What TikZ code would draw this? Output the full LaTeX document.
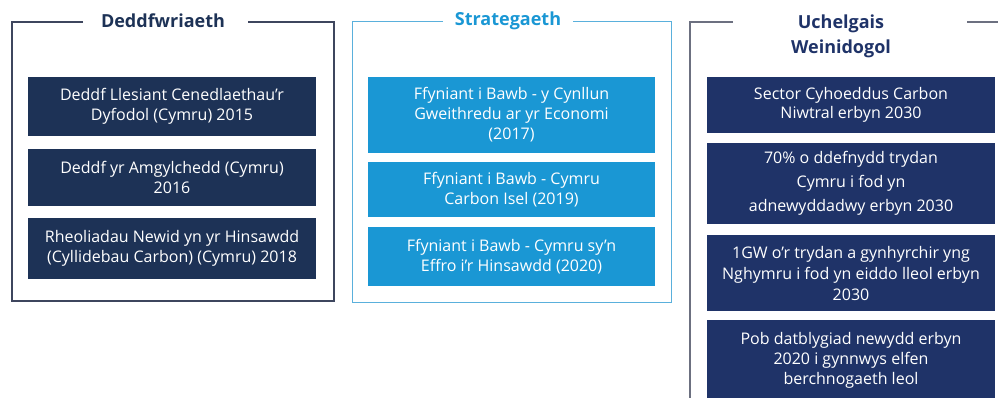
\documentclass[tikz,border=0pt]{standalone}
\usepackage{fontspec}
\setmainfont{Open Sans}
\definecolor{navyL}{HTML}{1D3256}
\definecolor{navyR}{HTML}{1F3368}
\definecolor{skyM}{HTML}{1A97D4}
\definecolor{frameL}{HTML}{3E465E}
\definecolor{frameM}{HTML}{5AB0DC}
\definecolor{frameR}{HTML}{6C7080}
\tikzset{
  box/.style={rectangle,text=white,align=center,inner sep=0pt,
    minimum width=288,font=\fontsize{16}{19.5}\selectfont},
  paneltitle/.style={font=\fontsize{18}{25}\selectfont\bfseries,align=center,inner sep=0pt}
}
\begin{document}
\begin{tikzpicture}[x=1pt,y=-1pt]
  \useasboundingbox (0,0) rectangle (998,398);

      % frames
      \draw[frameL,line width=1.4] (83,22) -- (12,22) -- (12,301) -- (334,301) -- (334,22) -- (248,22);
      \draw[frameM,line width=1] (443,22) -- (352,22) -- (352,302) -- (671,302) -- (671,22) -- (573,22);
      \draw[frameR,line width=1.4] (733,22) -- (690,22) -- (690,400);
      \draw[frameR,line width=1.4] (967,22) -- (1000,22);

      % titles
      \node[paneltitle,text=navyL] (tD) at (163,21) {Deddfwriaeth};
      \node[paneltitle,text=skyM]  (tS) at (508,21) {Strategaeth};
      \node[paneltitle,text=navyR] (tU) at (841,36.5) {Uchelgais\\Weinidogol};

      \begin{scope}[every node/.style={box,fill=navyL}]
        \node[minimum height=59] (d1) at (172,106.5) {Deddf Llesiant Cenedlaethau'r\\Dyfodol (Cymru) 2015};
        \node[minimum height=57] (d2) at (172,177.5) {Deddf yr Amgylchedd (Cymru)\\2016};
        \node[minimum height=61] (d3) at (172,248.5) {Rheoliadau Newid yn yr Hinsawdd\\(Cyllidebau Carbon) (Cymru) 2018};
      \end{scope}

      \begin{scope}[every node/.style={box,fill=skyM,minimum width=287}]
        \node[minimum height=76,font=\fontsize{16}{20}\selectfont] (s1) at (511.5,115) {Ffyniant i Bawb - y Cynllun\\Gweithredu ar yr Economi\\(2017)};
        \node[minimum height=55] (s2) at (511.5,189.5) {Ffyniant i Bawb - Cymru\\Carbon Isel (2019)};
        \node[minimum height=59] (s3) at (511.5,256.5) {Ffyniant i Bawb - Cymru sy'n\\Effro i'r Hinsawdd (2020)};
      \end{scope}

      \begin{scope}[every node/.style={box,fill=navyR}]
        \node[minimum height=56] (u1) at (851,105) {Sector Cyhoeddus Carbon\\Niwtral erbyn 2030};
        \node[minimum height=81,font=\fontsize{16}{24}\selectfont] (u2) at (851,183.5) {70\% o ddefnydd trydan\\Cymru i fod yn\\adnewyddadwy erbyn 2030};
        \node[minimum height=76,font=\fontsize{16}{21}\selectfont] (u3) at (851,273) {1GW o'r trydan a gynhyrchir yng\\Nghymru i fod yn eiddo lleol erbyn\\2030};
        \node[minimum height=80,font=\fontsize{16}{20}\selectfont] (u4) at (851,360) {Pob datblygiad newydd erbyn\\2020 i gynnwys elfen\\berchnogaeth leol};
      \end{scope}

    \end{tikzpicture}
\end{document}
